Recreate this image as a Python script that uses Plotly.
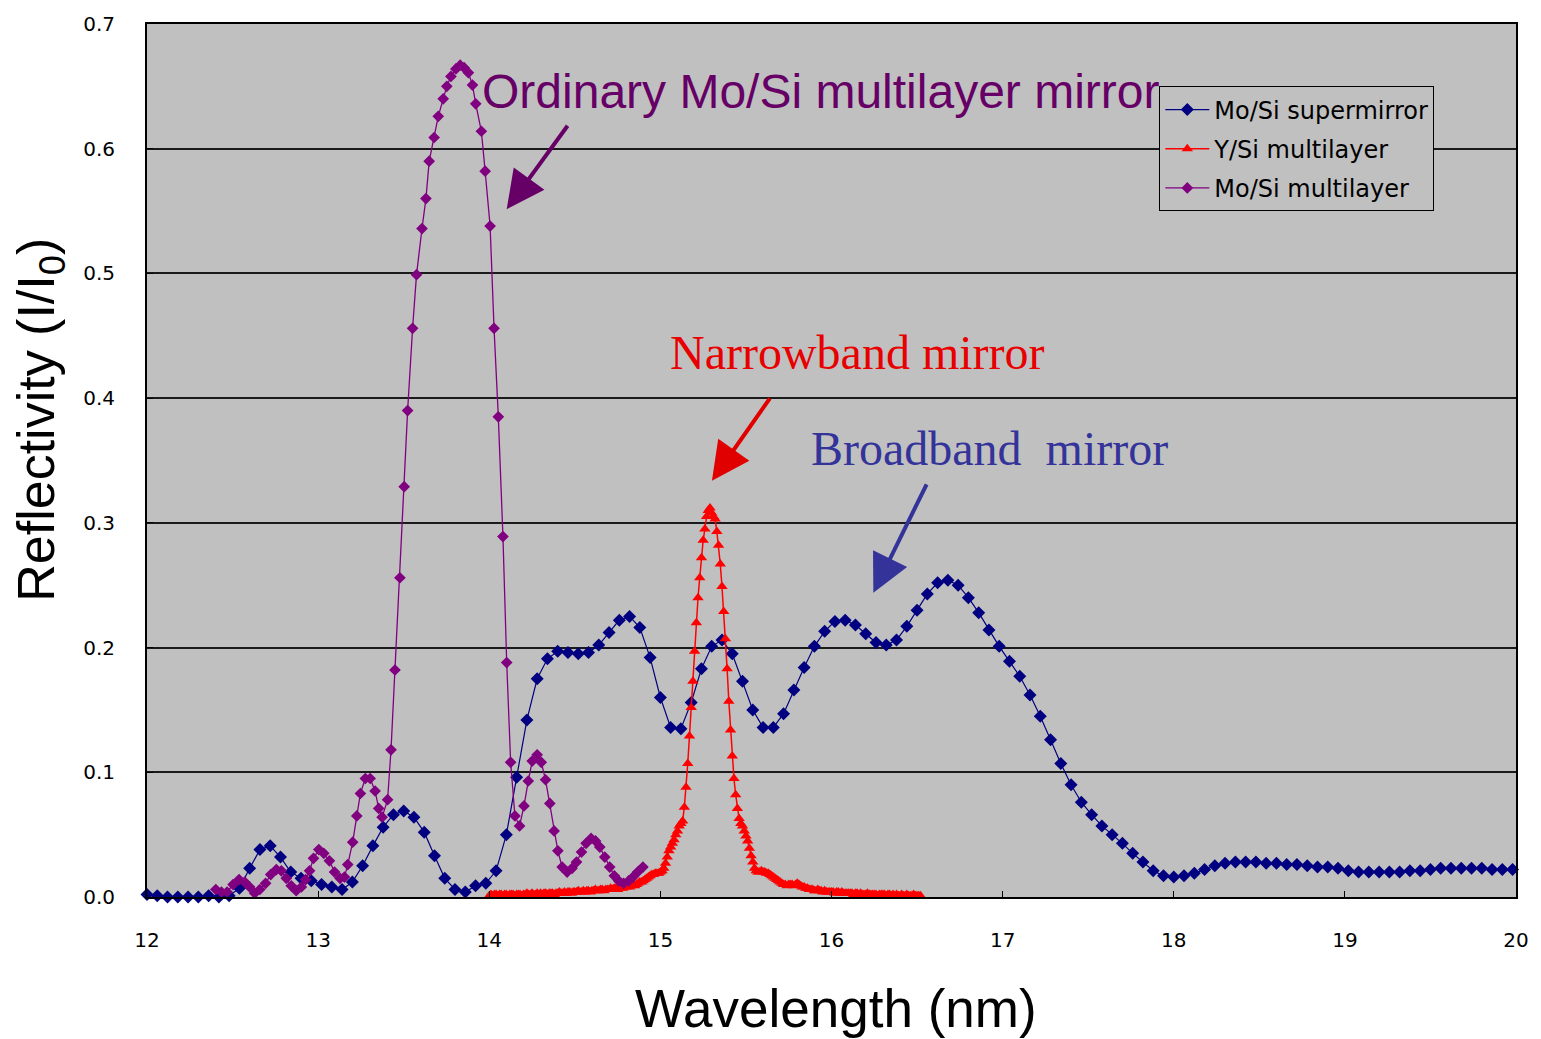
import plotly.graph_objects as go

# ---------------- data ----------------
# Mo/Si supermirror : sampled every 0.06 nm from 12.00 nm
super_x0, super_dx = 12.0, 0.06
super_y = [
    0.002, 0.001, 0.000, 0.000, 0.000, 0.000, 0.001, 0.000, 0.001, 0.007,
    0.023, 0.038, 0.041, 0.032, 0.020, 0.015, 0.013, 0.010, 0.008, 0.006,
    0.012, 0.025, 0.041, 0.056, 0.066, 0.069, 0.064, 0.052, 0.033, 0.015,
    0.006, 0.004, 0.009, 0.011, 0.021, 0.050, 0.096, 0.142, 0.175, 0.191,
    0.197, 0.196, 0.195, 0.196, 0.202, 0.212, 0.222, 0.225, 0.216, 0.192,
    0.160, 0.136, 0.135, 0.156, 0.183, 0.201, 0.206, 0.195, 0.173, 0.150,
    0.136, 0.136, 0.147, 0.166, 0.184, 0.201, 0.213, 0.221, 0.222, 0.218,
    0.211, 0.204, 0.202, 0.206, 0.217, 0.230, 0.243, 0.252, 0.254, 0.250,
    0.240, 0.228, 0.214, 0.201, 0.189, 0.177, 0.162, 0.145, 0.126, 0.107,
    0.090, 0.076, 0.066, 0.057, 0.050, 0.043, 0.035, 0.028, 0.021, 0.017,
    0.016, 0.017, 0.019, 0.022, 0.025, 0.027, 0.028, 0.028, 0.028, 0.027,
    0.027, 0.026, 0.026, 0.025, 0.024, 0.024, 0.023, 0.021, 0.020, 0.020,
    0.020, 0.020, 0.020, 0.021, 0.021, 0.022, 0.023, 0.023, 0.023, 0.023,
    0.023, 0.022, 0.022, 0.022,
]
super_x = [round(super_x0 + super_dx * i, 3) for i in range(len(super_y))]

# Y/Si multilayer : sampled every 0.01 nm from 14.00 nm
ysi_x0, ysi_dx = 14.0, 0.01
ysi_y = [
    0.001, 0.002, 0.001, 0.002, 0.002, 0.001, 0.002, 0.002, 0.001, 0.002,
    0.002, 0.001, 0.002, 0.002, 0.002, 0.001, 0.002, 0.002, 0.002, 0.001,
    0.002, 0.002, 0.003, 0.002, 0.002, 0.003, 0.002, 0.002, 0.003, 0.002,
    0.003, 0.002, 0.003, 0.003, 0.002, 0.003, 0.003, 0.003, 0.002, 0.003,
    0.003, 0.004, 0.003, 0.003, 0.004, 0.003, 0.004, 0.004, 0.003, 0.004,
    0.004, 0.004, 0.005, 0.004, 0.004, 0.005, 0.004, 0.005, 0.005, 0.004,
    0.005, 0.005, 0.006, 0.005, 0.005, 0.006, 0.006, 0.005, 0.006, 0.006,
    0.006, 0.007, 0.006, 0.007, 0.007, 0.006, 0.007, 0.008, 0.007, 0.008,
    0.008, 0.009, 0.008, 0.009, 0.010, 0.009, 0.010, 0.011, 0.012, 0.012,
    0.013, 0.014, 0.015, 0.016, 0.017, 0.018, 0.018, 0.019, 0.019, 0.019,
    0.020, 0.021, 0.023, 0.027, 0.032, 0.037, 0.040, 0.043, 0.046, 0.050,
    0.053, 0.057, 0.059, 0.061, 0.072, 0.088, 0.107, 0.129, 0.152, 0.173,
    0.197, 0.220, 0.240, 0.256, 0.272, 0.286, 0.295, 0.305, 0.310, 0.312,
    0.308, 0.305, 0.303, 0.293, 0.282, 0.267, 0.249, 0.229, 0.207, 0.183,
    0.157, 0.134, 0.113, 0.095, 0.082, 0.071, 0.063, 0.059, 0.057, 0.053,
    0.049, 0.045, 0.039, 0.033, 0.028, 0.023, 0.021, 0.020, 0.020, 0.021,
    0.020, 0.020, 0.019, 0.019, 0.018, 0.017, 0.016, 0.015, 0.014, 0.013,
    0.012, 0.011, 0.010, 0.010, 0.009, 0.010, 0.010, 0.010, 0.009, 0.010,
    0.011, 0.010, 0.009, 0.008, 0.008, 0.007, 0.007, 0.006, 0.006, 0.006,
    0.005, 0.005, 0.006, 0.005, 0.005, 0.004, 0.005, 0.004, 0.004, 0.004,
    0.004, 0.004, 0.003, 0.004, 0.004, 0.003, 0.004, 0.003, 0.003, 0.003,
    0.003, 0.003, 0.003, 0.002, 0.003, 0.003, 0.002, 0.003, 0.002, 0.002,
    0.002, 0.003, 0.002, 0.002, 0.002, 0.002, 0.002, 0.001, 0.002, 0.002,
    0.002, 0.002, 0.001, 0.002, 0.002, 0.001, 0.002, 0.001, 0.002, 0.001,
    0.001, 0.002, 0.001, 0.001, 0.002, 0.001, 0.001, 0.001, 0.002, 0.001,
    0.001, 0.001, 0.001,
]
ysi_x = [round(ysi_x0 + ysi_dx * i, 3) for i in range(len(ysi_y))]

# Mo/Si multilayer (ordinary)
mosi_x = [
    12.402, 12.435, 12.468, 12.503, 12.538, 12.571, 12.600, 12.629, 12.659, 12.693,
    12.723, 12.756, 12.785, 12.814, 12.843, 12.872, 12.902, 12.927, 12.950, 12.973,
    13.004, 13.033, 13.066, 13.096, 13.128, 13.154, 13.173, 13.202, 13.226, 13.247,
    13.276, 13.304, 13.333, 13.354, 13.374, 13.406, 13.426, 13.449, 13.478, 13.503,
    13.523, 13.552, 13.575, 13.607, 13.630, 13.649, 13.678, 13.702, 13.731, 13.752,
    13.776, 13.805, 13.830, 13.853, 13.878, 13.902, 13.921, 13.954, 13.976, 14.005,
    14.028, 14.053, 14.080, 14.102, 14.125, 14.150, 14.177, 14.203, 14.228, 14.251,
    14.280, 14.304, 14.329, 14.354, 14.379, 14.401, 14.426, 14.455, 14.484, 14.510,
    14.539, 14.566, 14.595, 14.621, 14.646, 14.675, 14.704, 14.731, 14.756, 14.785,
    14.815, 14.840, 14.867, 14.898,
]
mosi_y = [
    0.006, 0.004, 0.004, 0.010, 0.014, 0.012, 0.008, 0.003, 0.006, 0.011,
    0.018, 0.022, 0.021, 0.015, 0.009, 0.005, 0.008, 0.014, 0.021, 0.031,
    0.038, 0.035, 0.029, 0.020, 0.015, 0.016, 0.026, 0.044, 0.065, 0.083,
    0.095, 0.095, 0.085, 0.071, 0.064, 0.078, 0.118, 0.182, 0.256, 0.329,
    0.390, 0.456, 0.499, 0.536, 0.560, 0.590, 0.609, 0.626, 0.640, 0.650,
    0.658, 0.664, 0.667, 0.665, 0.661, 0.651, 0.636, 0.614, 0.582, 0.538,
    0.456, 0.385, 0.289, 0.188, 0.108, 0.065, 0.057, 0.073, 0.093, 0.109,
    0.114, 0.108, 0.094, 0.075, 0.053, 0.037, 0.024, 0.020, 0.023, 0.028,
    0.036, 0.043, 0.047, 0.045, 0.040, 0.032, 0.024, 0.017, 0.013, 0.011,
    0.013, 0.016, 0.020, 0.024,
]

series_names = ["Mo/Si supermirror", "Y/Si multilayer", "Mo/Si multilayer"]
x_ticks = [12, 13, 14, 15, 16, 17, 18, 19, 20]
y_ticks = [0.0, 0.1, 0.2, 0.3, 0.4, 0.5, 0.6, 0.7]

# ---------------- figure ----------------
W, H = 1541, 1039
ML, MR, MT, MB = 147, 20, 16, 142
PW, PH = W - ML - MR, H - MT - MB


def px(xp):
    return (xp - ML) / PW


def py(yp):
    return (H - MB - yp) / PH


fig = go.Figure()
fig.add_trace(go.Scatter(
    x=super_x, y=super_y, name=series_names[0], mode="lines+markers",
    line=dict(color="#000080", width=1.2),
    marker=dict(symbol="diamond", size=10, color="#000080"),
    cliponaxis=False, legendgroup="a",
))
fig.add_trace(go.Scatter(
    x=ysi_x, y=ysi_y, name=series_names[1], mode="lines+markers",
    line=dict(color="#FF0000", width=1.5),
    marker=dict(symbol="triangle-up", size=10, color="#FF0000"),
    cliponaxis=False, legendgroup="b",
))
fig.add_trace(go.Scatter(
    x=mosi_x, y=mosi_y, name=series_names[2], mode="lines+markers",
    line=dict(color="#800080", width=1.3),
    marker=dict(symbol="diamond", size=9, color="#800080"),
    cliponaxis=False, legendgroup="c",
))

tickfont = dict(family="DejaVu Sans", size=20, color="black")
fig.update_xaxes(
    range=[12, 20], tickvals=x_ticks, ticktext=[str(t) for t in x_ticks],
    showline=True, linecolor="black", linewidth=2, mirror=True,
    ticks="inside", ticklen=6, tickcolor="black", tickwidth=1,
    showgrid=False, zeroline=False, tickfont=tickfont, ticklabelstandoff=24,
)
fig.update_yaxes(
    range=[0, 0.7], tickvals=y_ticks, ticktext=[f"{t:.1f}" for t in y_ticks],
    showline=True, linecolor="black", linewidth=2, mirror=True,
    ticks="inside", ticklen=6, tickcolor="black", tickwidth=1,
    showgrid=True, gridcolor="#1a1a1a", gridwidth=1.5, zeroline=False,
    tickfont=tickfont, ticklabelstandoff=26,
)

annotations = [
    dict(x=px(40), y=py(415), xref="paper", yref="paper", showarrow=False,
         text="Reflectivity (I/I<sub>0</sub>)", textangle=-90,
         font=dict(family="Liberation Sans", size=52, color="black"),
         xanchor="center", yanchor="middle"),
    dict(x=px(839), y=py(1010), xref="paper", yref="paper", showarrow=False,
         text="Wavelength (nm)",
         font=dict(family="Liberation Sans", size=53, color="black"),
         xanchor="center", yanchor="middle"),
    dict(x=px(481), y=py(84), xref="paper", yref="paper", showarrow=False,
         text="Ordinary Mo/Si multilayer mirror",
         font=dict(family="Liberation Sans", size=48, color="#660066"),
         xanchor="left", yanchor="middle"),
    dict(x=px(670), y=py(348), xref="paper", yref="paper", showarrow=False,
         text="Narrowband mirror",
         font=dict(family="Liberation Serif", size=48, color="#E80000"),
         xanchor="left", yanchor="middle"),
    dict(x=px(811), y=py(444), xref="paper", yref="paper", showarrow=False,
         text="Broadband&nbsp; mirror",
         font=dict(family="Liberation Serif", size=48, color="#333399"),
         xanchor="left", yanchor="middle"),
]
arrows = [((508, 203), (570, 118), "#660066"),
          ((714, 477), (773, 393), "#E00000"),
          ((876, 590), (930, 480), "#333399")]
for (tip, tail, col) in arrows:
    annotations.append(dict(
        x=px(tip[0]), y=py(tip[1]), xref="paper", yref="paper",
        ax=tail[0] - tip[0], ay=tail[1] - tip[1], axref="pixel", ayref="pixel",
        showarrow=True, text="", arrowhead=2, arrowsize=1.9, arrowwidth=4,
        arrowcolor=col,
    ))

fig.update_layout(
    width=W, height=H,
    margin=dict(l=ML, r=MR, t=MT, b=MB, pad=0),
    paper_bgcolor="white", plot_bgcolor="#C0C0C0",
    showlegend=True,
    legend=dict(
        x=px(1163), y=py(79), xanchor="left", yanchor="top",
        bgcolor="#C0C0C0", bordercolor="black", borderwidth=1,
        font=dict(family="DejaVu Sans", size=24, color="black"),
        tracegroupgap=5, itemwidth=44,
    ),
    annotations=annotations,
)

fig.write_html("out.html")
